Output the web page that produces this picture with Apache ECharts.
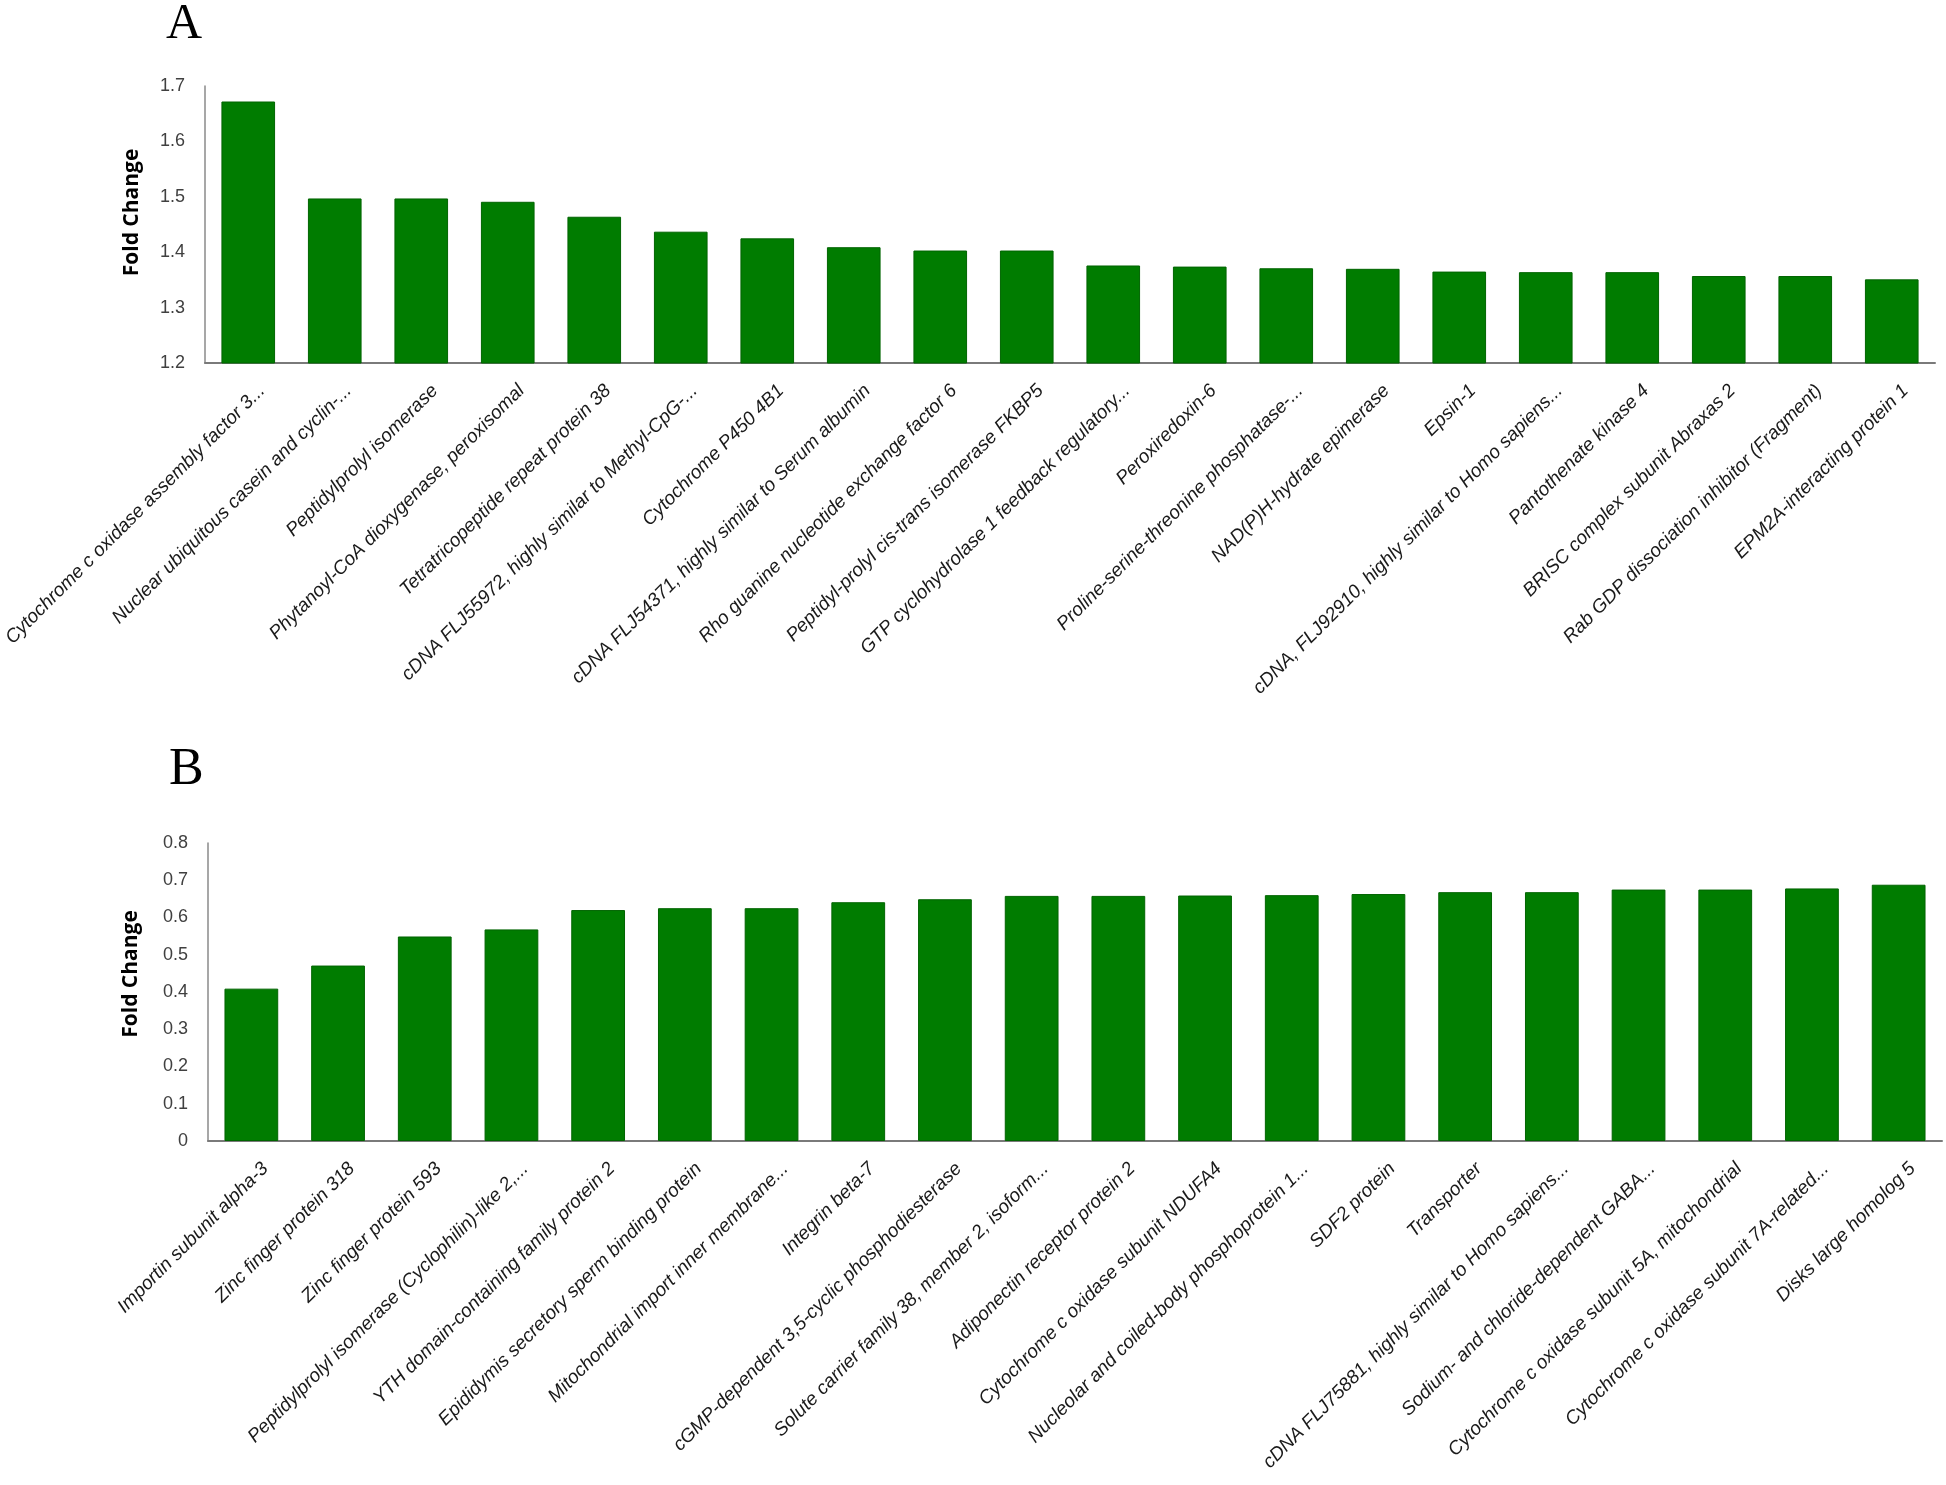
<!DOCTYPE html>
<html>
<head>
<meta charset="utf-8">
<title>Fold Change</title>
<script src="https://cdn.jsdelivr.net/npm/echarts@6/dist/echarts.min.js"></script>
<style>
  html, body { margin: 0; padding: 0; background: #fff; }
  #chart { width: 1946px; height: 1485px; }
</style>
</head>
<body>
<div id="chart"></div>
<script>
var upNames = [
  "Cytochrome c oxidase assembly factor 3...", "Nuclear ubiquitous casein and cyclin-...",
  "Peptidylprolyl isomerase", "Phytanoyl-CoA dioxygenase, peroxisomal",
  "Tetratricopeptide repeat protein 38", "cDNA FLJ55972, highly similar to Methyl-CpG-...",
  "Cytochrome P450 4B1", "cDNA FLJ54371, highly similar to Serum albumin",
  "Rho guanine nucleotide exchange factor 6", "Peptidyl-prolyl cis-trans isomerase FKBP5",
  "GTP cyclohydrolase 1 feedback regulatory...", "Peroxiredoxin-6",
  "Proline-serine-threonine phosphatase-...", "NAD(P)H-hydrate epimerase",
  "Epsin-1", "cDNA, FLJ92910, highly similar to Homo sapiens...",
  "Pantothenate kinase 4", "BRISC complex subunit Abraxas 2",
  "Rab GDP dissociation inhibitor (Fragment)", "EPM2A-interacting protein 1"
];
var upValues = [1.672, 1.497, 1.497, 1.491, 1.464, 1.437, 1.425, 1.409, 1.403, 1.403,
  1.376, 1.374, 1.371, 1.370, 1.365, 1.364, 1.364, 1.357, 1.357, 1.351];

var downNames = [
  "Importin subunit alpha-3", "Zinc finger protein 318", "Zinc finger protein 593",
  "Peptidylprolyl isomerase (Cyclophilin)-like 2,...", "YTH domain-containing family protein 2",
  "Epididymis secretory sperm binding protein", "Mitochondrial import inner membrane...",
  "Integrin beta-7", "cGMP-dependent 3,5-cyclic phosphodiesterase",
  "Solute carrier family 38, member 2, isoform...", "Adiponectin receptor protein 2",
  "Cytochrome c oxidase subunit NDUFA4", "Nucleolar and coiled-body phosphoprotein 1...",
  "SDF2 protein", "Transporter", "cDNA FLJ75881, highly similar to Homo sapiens...",
  "Sodium- and chloride-dependent GABA...", "Cytochrome c oxidase subunit 5A, mitochondrial",
  "Cytochrome c oxidase subunit 7A-related...", "Disks large homolog 5"
];
var downValues = [0.409, 0.471, 0.549, 0.568, 0.620, 0.625, 0.625, 0.641, 0.649, 0.658,
  0.658, 0.659, 0.660, 0.663, 0.668, 0.668, 0.675, 0.675, 0.678, 0.688];

var upTicks = [1.2, 1.7, 0.1];   // min, max, step
var downTicks = [0, 0.8, 0.1];

var barColor = "#007c00";
var labelFont = "Liberation Sans";

function xAxisFor(idx, names) {
  return {
    type: "category",
    gridIndex: idx,
    data: names,
    axisTick: { show: false },
    axisLine: { lineStyle: { color: "#7a7a7a", width: 2 } },
    axisLabel: {
      interval: 0,
      rotate: 45,
      margin: 11,
      verticalAlign: "top",
      padding: [10, 0, 0, 0],
      color: "#1a1a1a",
      fontFamily: labelFont,
      fontStyle: "italic",
      fontSize: 19
    }
  };
}

function yAxisFor(idx, ticks, gap, lift) {
  return {
    type: "value",
    gridIndex: idx,
    min: ticks[0],
    max: ticks[1],
    interval: ticks[2],
    name: "Fold Change",
    nameLocation: "middle",
    nameGap: gap,
    nameTextStyle: {
      fontFamily: "Open Sans", fontWeight: "bold", fontSize: 21, color: "#000",
      padding: [0, 0, 0, lift]
    },
    splitLine: { show: false },
    axisTick: { show: false },
    axisLine: { show: true, lineStyle: { color: "#8a8a8a", width: 1.5 } },
    axisLabel: {
      margin: 20,
      color: "#404040",
      fontFamily: labelFont,
      fontSize: 18,
      formatter: function (v) { return String(Math.round(v * 10) / 10); }
    }
  };
}

var chart = echarts.init(document.getElementById("chart"));
var option = {
  backgroundColor: "#fff",
  animation: false,
  graphic: [
    { type: "text", left: 166, top: 0, style: { text: "A", fontFamily: "Liberation Serif", fontSize: 50, fill: "#000" } },
    { type: "text", left: 169, top: 744, style: { text: "B", fontFamily: "Liberation Serif", fontSize: 52, fill: "#000" } }
  ],
  // keep the plot boxes fixed; long rotated labels may run to the page edge
  grid: [
    { left: 205, top: 86, width: 1730, height: 277, outerBoundsMode: "none" },
    { left: 208, top: 843, width: 1734, height: 298, outerBoundsMode: "none" }
  ],
  xAxis: [xAxisFor(0, upNames), xAxisFor(1, downNames)],
  yAxis: [yAxisFor(0, upTicks, 62, 24), yAxisFor(1, downTicks, 66, 36)],
  series: [
    {
      type: "bar",
      xAxisIndex: 0,
      yAxisIndex: 0,
      data: upValues,
      barCategoryGap: "38%",
      itemStyle: { color: barColor, borderColor: "#006400", borderWidth: 1 }
    },
    {
      type: "bar",
      xAxisIndex: 1,
      yAxisIndex: 1,
      data: downValues,
      barCategoryGap: "38%",
      itemStyle: { color: barColor, borderColor: "#006400", borderWidth: 1 }
    }
  ]
};
chart.setOption(option);
</script>
</body>
</html>
